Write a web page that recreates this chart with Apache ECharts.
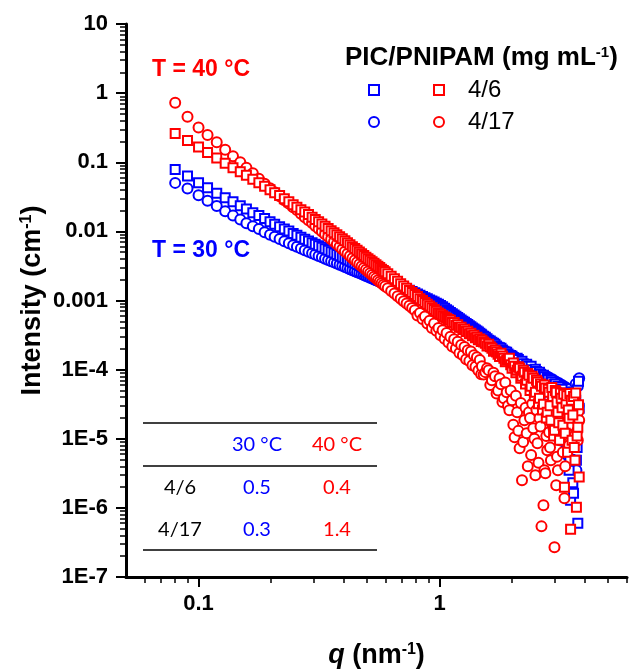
<!DOCTYPE html>
<html><head><meta charset="utf-8">
<script src="https://cdn.jsdelivr.net/npm/echarts@6/dist/echarts.min.js"></script>
<style>html,body{margin:0;padding:0;background:#fff}#c{width:629px;height:671px}</style>
</head><body><div id="c"></div>
<script>
// ---------------- data ----------------
const q = [0.080,0.090,0.100,0.109,0.119,0.129,0.139,0.149,0.158,0.168,0.178,0.188,0.198,0.207,0.217,0.227,0.237,0.247,0.256,0.266,0.276,0.286,0.296,
0.305,0.315,0.325,0.335,0.345,0.355,0.365,0.375,0.385,0.395,0.405,0.415,0.425,0.435,0.445,0.455,0.465,0.475,0.485,0.495,0.505,0.515,0.525,0.535,0.545,0.555,0.565,0.575,0.585,0.595,
0.61,0.63,0.65,0.67,0.69,0.71,0.73,0.75,0.77,0.79,0.81,0.83,0.85,0.87,0.89,0.91,0.93,0.95,0.97,0.99,1.01,1.03,1.05,1.07,1.09,1.11,1.13,1.15,1.17,1.19,1.21,1.23,1.25,1.27,1.29,1.31,1.33,1.35,1.37,1.39,1.41,1.43,1.45,1.47,1.49,
1.500,1.525,1.550,1.575,1.600,1.625,1.650,1.675,1.700,1.725,1.750,1.775,1.800,1.825,1.850,1.875,1.900,1.925,1.950,1.975,2.000,2.025,2.050,2.075,2.100,2.125,2.150,2.175,2.200,2.225,2.250,2.275,2.300,2.325,2.350,2.375,2.400,2.425,2.450,2.475,2.500,2.525,2.550,2.575,2.600,2.625,2.650,2.675,2.700,2.725,2.750,2.775,2.800,2.825,2.850,2.875,2.900,2.925,2.950,2.975,3.000,3.025,3.050,3.075,3.100,3.125,3.150,3.175,3.200,3.225,3.250,3.275,3.300,3.325,3.350,3.375,3.400,3.425,3.450,3.475,3.500,3.525,3.550,3.575,3.600,3.625,3.650,3.675,3.700,3.725,3.750,3.775,3.800];

// 4/6 at 30 °C (blue squares)
const I_4_6_30C = [0.0787,0.0633,0.0507,0.0429,0.0357,0.0307,0.0269,0.0235,0.0210,0.0186,0.0169,0.0153,0.0138,0.0127,0.0117,0.0108,0.0101,0.00932,0.00881,0.00824,0.00771,0.00726,0.00686,
0.00653,0.00621,0.00591,0.00562,0.00534,0.00508,0.00485,0.00463,0.00443,0.00423,0.00406,0.00389,0.00373,0.00358,0.00345,0.00332,0.0032,0.00308,0.00297,0.00287,0.00277,0.00268,0.00259,0.00251,0.00243,0.00235,0.00228,0.00221,0.00215,0.00209,
0.002,0.0019,0.0018,0.00171,0.00163,0.00155,0.00148,0.00141,0.00135,0.00129,0.00124,0.00119,0.00114,0.0011,0.00106,0.00102,9.83e-4,9.48e-4,9.16e-4,8.85e-4,8.49e-4,8.09e-4,7.71e-4,7.36e-4,7.04e-4,6.73e-4,6.44e-4,6.17e-4,5.91e-4,5.67e-4,5.44e-4,5.23e-4,5.03e-4,4.83e-4,4.65e-4,4.48e-4,4.31e-4,4.16e-4,4.01e-4,3.87e-4,3.74e-4,3.61e-4,3.49e-4,3.37e-4,3.26e-4,
3.15e-4,3.05e-4,2.94e-4,2.8e-4,2.66e-4,2.6e-4,2.49e-4,2.4e-4,2.33e-4,2.2e-4,2.11e-4,2.08e-4,2.04e-4,1.92e-4,1.85e-4,1.8e-4,1.79e-4,1.68e-4,1.62e-4,1.6e-4,1.56e-4,1.5e-4,1.37e-4,1.38e-4,1.46e-4,1.4e-4,1.2e-4,1.25e-4,1.32e-4,1.22e-4,1.05e-4,1.1e-4,1.2e-4,1.12e-4,9.17e-5,9.6e-5,1.12e-4,1.0e-4,8.03e-5,8.5e-5,1.01e-4,9.4e-5,7.03e-5,7.6e-5,9.17e-5,8.6e-5,5.95e-5,6.6e-5,8.3e-5,7.9e-5,5.03e-5,5.7e-5,7.51e-5,7.2e-5,4.12e-5,4.8e-5,7.03e-5,6.6e-5,3.37e-5,3.9e-5,6.15e-5,6.2e-5,2.58e-5,3.0e-5,5.75e-5,5.6e-5,1.85e-5,2.2e-5,5.03e-5,5.2e-5,1.24e-5,1.5e-5,3.61e-5,4.6e-5,8.05e-6,9.0e-6,4.26e-5,4.3e-5,3.5e-6,5.0e-6,1.29e-6,3.3e-5,2.19e-5,2.3e-6,1.63e-6,1.6e-5,9.51e-6,3.6e-5,4.89e-6,7.5e-6,5.99e-7,6.8e-5,2.76e-5];

// 4/17 at 30 °C (blue circles)
const I_4_17_30C = [0.0503,0.0418,0.0334,0.0278,0.0232,0.0196,0.0169,0.0148,0.0131,0.0119,0.0108,0.00974,0.00896,0.00838,0.00776,0.00721,0.00675,0.00631,0.00599,0.00565,0.00535,0.00507,0.00484,
0.00462,0.00441,0.00422,0.00403,0.00386,0.0037,0.00356,0.00342,0.00329,0.00317,0.00305,0.00294,0.00284,0.00274,0.00265,0.00257,0.00249,0.00241,0.00234,0.00227,0.0022,0.00214,0.00208,0.00202,0.00196,0.00191,0.00186,0.00182,0.00177,0.00173,
0.00166,0.00158,0.0015,0.00143,0.00137,0.00131,0.00125,0.0012,0.00115,0.0011,0.00106,0.00102,9.84e-4,9.49e-4,9.15e-4,8.84e-4,8.53e-4,8.25e-4,7.99e-4,7.73e-4,7.43e-4,7.09e-4,6.76e-4,6.46e-4,6.18e-4,5.91e-4,5.66e-4,5.42e-4,5.2e-4,4.99e-4,4.79e-4,4.61e-4,4.43e-4,4.26e-4,4.1e-4,3.95e-4,3.81e-4,3.68e-4,3.55e-4,3.42e-4,3.31e-4,3.2e-4,3.09e-4,2.99e-4,2.89e-4,
2.85e-4,2.75e-4,2.66e-4,2.52e-4,2.41e-4,2.35e-4,2.25e-4,2.12e-4,2.04e-4,2.0e-4,1.97e-4,1.85e-4,1.79e-4,1.76e-4,1.73e-4,1.62e-4,1.56e-4,1.55e-4,1.51e-4,1.42e-4,1.37e-4,1.4e-4,1.37e-4,1.28e-4,1.24e-4,1.27e-4,1.24e-4,1.15e-4,1.08e-4,1.14e-4,1.12e-4,1.02e-4,9.8e-5,1.06e-4,1.05e-4,9.0e-5,8.58e-5,1.0e-4,9.8e-5,8.2e-5,7.76e-5,9.5e-5,9.17e-5,7.2e-5,6.79e-5,8.8e-5,8.58e-5,6.2e-5,5.75e-5,8.3e-5,8.03e-5,5.2e-5,4.71e-5,7.8e-5,7.51e-5,4.3e-5,3.86e-5,7.3e-5,7.03e-5,3.4e-5,3.05e-5,6.8e-5,6.57e-5,2.6e-5,2.19e-5,6.4e-5,6.15e-5,1.8e-5,1.42e-5,6.0e-5,5.75e-5,1.2e-5,9.51e-6,5.6e-5,5.38e-5,7.5e-6,5.77e-6,5.2e-5,4.71e-5,2.6e-5,1.98e-5,4.5e-5,4.12e-5,8.0e-6,1.33e-5,3.8e-5,3.16e-5,6.2e-5,3.5e-6,2.2e-5,5.75e-5,3.0e-5,7.51e-5];

// 4/6 at 40 °C (red squares)
const I_4_6_40C = [0.261,0.206,0.166,0.138,0.115,0.097,0.0836,0.0731,0.065,0.0569,0.0507,0.0451,0.0401,0.0363,0.0329,0.0297,0.0269,0.0243,0.0224,0.0206,0.019,0.0175,0.016,
0.0149,0.0138,0.0128,0.0119,0.0110,0.0102,0.00956,0.00896,0.00838,0.00784,0.00733,0.00686,0.00642,0.00601,0.00567,0.00535,0.00504,0.00475,0.00449,0.00424,0.00403,0.00383,0.00365,0.00347,0.0033,0.00314,0.00299,0.00284,0.00272,0.00261,
0.00244,0.00224,0.00206,0.0019,0.00175,0.00162,0.0015,0.0014,0.0013,0.00122,0.00114,0.00106,9.98e-4,9.38e-4,8.81e-4,8.31e-4,7.83e-4,7.4e-4,7.0e-4,6.62e-4,6.3e-4,6.03e-4,5.77e-4,5.53e-4,5.31e-4,5.2e-4,4.8e-4,4.8e-4,4.4e-4,4.45e-4,4.1e-4,4.1e-4,3.8e-4,3.85e-4,3.55e-4,3.6e-4,3.3e-4,3.35e-4,3.1e-4,3.15e-4,2.9e-4,2.95e-4,2.7e-4,2.78e-4,2.55e-4,
2.67e-4,2.5e-4,2.41e-4,2.2e-4,2.33e-4,2.15e-4,2.04e-4,1.85e-4,1.91e-4,1.8e-4,1.67e-4,1.55e-4,1.73e-4,1.58e-4,1.46e-4,1.3e-4,1.37e-4,1.4e-4,1.46e-4,1.18e-4,1.05e-4,1.25e-4,1.12e-4,9.0e-5,9.8e-5,1.1e-4,1.05e-4,7.5e-5,8.0e-5,9.8e-5,9.2e-5,6.2e-5,7.0e-5,8.8e-5,8.3e-5,5.0e-5,5.75e-5,8.0e-5,7.5e-5,4.2e-5,4.7e-5,7.0e-5,6.6e-5,3.2e-5,3.85e-5,6.2e-5,5.75e-5,2.6e-5,3.15e-5,6.0e-5,5.4e-5,2.0e-5,2.42e-5,5.2e-5,4.7e-5,3.0e-5,1.85e-5,5.5e-5,4.1e-5,1.1e-5,1.33e-5,5.0e-5,4.7e-5,3.4e-5,2.42e-5,1.7e-5,9.5e-6,4.6e-5,3.85e-5,2.8e-5,1.57e-5,4.4e-5,1.99e-6,1.2e-5,3.27e-5,4.2e-5,6.4e-6,2.6e-5,1.98e-5,4.5e-5,4.9e-7,3.6e-5,9.5e-6,2.2e-5,4.1e-5,7.5e-6,4.9e-6,4.6e-5,1.02e-6,1.1e-5,1.47e-5,3.1e-5,2.8e-6];

// 4/17 at 40 °C (red circles)
const I_4_17_40C = [0.724,0.454,0.319,0.247,0.195,0.152,0.122,0.100,0.0836,0.0695,0.0579,0.049,0.0422,0.0369,0.0323,0.0283,0.0252,0.0224,0.0203,0.018,0.016,0.0145,0.0132,
0.012,0.0109,0.00996,0.0091,0.00838,0.00771,0.0071,0.00653,0.006,0.00552,0.00512,0.00475,0.00441,0.00409,0.00383,0.00358,0.00335,0.00313,0.00296,0.00279,0.00263,0.00248,0.00234,0.00221,0.00209,0.00197,0.00187,0.00178,0.00169,0.00161,
0.00151,0.00137,0.00126,0.00115,0.00106,9.79e-4,9.05e-4,8.39e-4,7.78e-4,7.24e-4,6.08e-4,6.6e-4,5.4e-4,5.85e-4,4.65e-4,5.1e-4,4.0e-4,4.65e-4,3.65e-4,4.0e-4,3.14e-4,3.7e-4,2.79e-4,3.38e-4,2.47e-4,2.99e-4,2.16e-4,2.75e-4,2.02e-4,2.54e-4,1.74e-4,2.28e-4,1.62e-4,2.12e-4,1.41e-4,1.9e-4,1.33e-4,1.83e-4,1.16e-4,1.61e-4,1.1e-4,1.51e-4,9.75e-5,1.38e-4,8.6e-5,
1.12e-4,8.5e-5,9.2e-5,1.05e-4,9.8e-5,6.0e-5,7.0e-5,9.0e-5,8.0e-5,4.5e-5,5.0e-5,7.5e-5,6.15e-5,3.4e-5,3.85e-5,6.5e-5,4.7e-5,3.0e-5,2.58e-5,5.0e-5,3.6e-5,1.6e-5,1.05e-5,4.2e-5,2.42e-5,1.3e-5,7.3e-6,3.3e-5,2.5e-6,9.0e-6,1.85e-5,2.8e-5,1.2e-5,4.0e-6,2.42e-5,2.0e-5,5.8e-6,3.2e-5,1.42e-5,1.0e-5,2.96e-6,2.6e-5,8.6e-6,4.5e-6,1.98e-5,1.5e-5,5.4e-7,2.9e-5,1.09e-6,3.5e-6,3.17e-6,1.1e-5,6.8e-6,2.2e-5,1.24e-5,7.5e-6,4.9e-6,3.0e-5,1.57e-5,1.4e-5,2.7e-7,2.4e-5,2.12e-6,5.5e-6,3.5e-6,1.7e-5,9.5e-6,3.0e-5,1.85e-5,1.1e-5,6.4e-6,2.6e-5,1.38e-6,4.0e-6,1.33e-5,3.2e-5,2.19e-5,1.6e-5,8.05e-6,3.8e-5,2.58e-5,1.2e-5,1.57e-5,2.8e-5,3.6e-5,2.0e-5,1.12e-5,3.4e-5,2.19e-5,1.3e-5,9.5e-6,2.5e-5,1.85e-5];

// ticks
const xMajorTicks = [0.1, 1];
const xTickLabels = ['0.1', '1'];
const xMinorTicks = [0.06,0.07,0.08,0.09,0.2,0.3,0.4,0.5,0.6,0.7,0.8,0.9,2,3,4,5,6];
const yMajorTicks = [10, 1, 0.1, 0.01, 0.001, 1e-4, 1e-5, 1e-6, 1e-7];
const yTickLabels = ['10', '1', '0.1', '0.01', '0.001', '1E-4', '1E-5', '1E-6', '1E-7'];
const yMinorTicks = [2e-7,3e-7,4e-7,5e-7,6e-7,7e-7,8e-7,9e-7,
2e-6,3e-6,4e-6,5e-6,6e-6,7e-6,8e-6,9e-6,
2e-5,3e-5,4e-5,5e-5,6e-5,7e-5,8e-5,9e-5,
2e-4,3e-4,4e-4,5e-4,6e-4,7e-4,8e-4,9e-4,
0.002,0.003,0.004,0.005,0.006,0.007,0.008,0.009,
0.02,0.03,0.04,0.05,0.06,0.07,0.08,0.09,
0.2,0.3,0.4,0.5,0.6,0.7,0.8,0.9,
2,3,4,5,6,7,8,9];

// inset table
const tableTemps = ['30 °C', '40 °C'];
const tableRowNames = ['4/6', '4/17'];
const table30C = ['0.5', '0.3'];
const table40C = ['0.4', '1.4'];

// ---------------- chart ----------------
const BLUE = '#0000ff', RED = '#ff0000';
const FONT = '"Liberation Sans", Arial, sans-serif';
const S46_30 = '4/6 (30 °C)', S417_30 = '4/17 (30 °C)', S46_40 = '4/6 (40 °C)', S417_40 = '4/17 (40 °C)';

function pairs(arr) { return q.map((v, i) => [v, arr[i]]).filter(p => p[1] != null); }
function sc(name, arr, symbol, color, size) {
  return {
    name, type: 'scatter', data: pairs(arr), symbol, symbolSize: size,
    itemStyle: { color: '#ffffff', borderColor: color, borderWidth: 2, opacity: 1 },
    emphasis: { disabled: true }, animation: false
  };
}

const nameRich = {
  n: { fontFamily: FONT, fontWeight: 'bold', fontSize: 27, color: '#000' },
  qi: { fontFamily: FONT, fontWeight: 'bold', fontStyle: 'italic', fontSize: 27, color: '#000' },
  s: { fontFamily: FONT, fontWeight: 'bold', fontSize: 16, color: '#000', verticalAlign: 'top' }
};

const tickLabelStyle = { color: '#000', fontFamily: FONT, fontWeight: 'bold', fontSize: 22 };

const chart = echarts.init(document.getElementById('c'), null, { renderer: 'canvas' });

const graphics = [
  { type: 'text', x: 152, y: 70, style: { text: 'T = 40 °C', fill: RED, font: 'bold 23px ' + FONT, verticalAlign: 'middle' } },
  { type: 'text', x: 152, y: 251, style: { text: 'T = 30 °C', fill: BLUE, font: 'bold 23px ' + FONT, verticalAlign: 'middle' } },
  { type: 'text', x: 345, y: 58, style: {
      text: '{b|PIC/PNIPAM (mg mL}{s|-1}{b|)}', verticalAlign: 'middle',
      rich: {
        b: { fontFamily: FONT, fontWeight: 'bold', fontSize: 26, fill: '#000' },
        s: { fontFamily: FONT, fontWeight: 'bold', fontSize: 15, fill: '#000', verticalAlign: 'top' }
      } } },
  { type: 'line', shape: { x1: 143, y1: 423, x2: 377, y2: 423 }, style: { stroke: '#000', lineWidth: 1.5 } },
  { type: 'line', shape: { x1: 143, y1: 466, x2: 377, y2: 466 }, style: { stroke: '#000', lineWidth: 1.5 } },
  { type: 'line', shape: { x1: 143, y1: 550, x2: 377, y2: 550 }, style: { stroke: '#000', lineWidth: 1.5 } }
];
const tFont = '20px Lato, "Open Sans", sans-serif';
const colX = [180, 257, 337];
const rowY = [445, 488, 530];
graphics.push({ type: 'text', x: colX[1], y: rowY[0], style: { text: tableTemps[0], fill: BLUE, font: tFont, align: 'center', verticalAlign: 'middle' } });
graphics.push({ type: 'text', x: colX[2], y: rowY[0], style: { text: tableTemps[1], fill: RED, font: tFont, align: 'center', verticalAlign: 'middle' } });
tableRowNames.forEach((r, i) => {
  graphics.push({ type: 'text', x: colX[0], y: rowY[i + 1], style: { text: r, fill: '#000', font: tFont, align: 'center', verticalAlign: 'middle' } });
  graphics.push({ type: 'text', x: colX[1], y: rowY[i + 1], style: { text: table30C[i], fill: BLUE, font: tFont, align: 'center', verticalAlign: 'middle' } });
  graphics.push({ type: 'text', x: colX[2], y: rowY[i + 1], style: { text: table40C[i], fill: RED, font: tFont, align: 'center', verticalAlign: 'middle' } });
});

const legendCommon = {
  orient: 'vertical', top: 78, itemWidth: 10, itemHeight: 10, itemGap: 8, padding: 0,
  selectedMode: false, itemStyle: { borderWidth: 2 }
};

chart.setOption({
  animation: false,
  backgroundColor: '#ffffff',
  textStyle: { fontFamily: FONT },
  grid: { left: 126, right: 2, top: 24, bottom: 94, containLabel: false, outerBoundsMode: 'none' },
  xAxis: [
    {
      type: 'log', logBase: 10, min: 0.05, max: 6, position: 'bottom',
      axisLine: { show: true, onZero: false, lineStyle: { color: '#000', width: 3 } },
      axisTick: { show: true, inside: false, length: 10, lineStyle: { color: '#000', width: 2 }, customValues: xMajorTicks },
      axisLabel: { show: true, customValues: xMajorTicks, margin: 16, ...tickLabelStyle,
        formatter: v => { const i = xMajorTicks.findIndex(t => Math.abs(Math.log10(t) - Math.log10(v)) < 1e-6); return i >= 0 ? xTickLabels[i] : ''; } },
      splitLine: { show: false }, minorTick: { show: false },
      name: '{qi|q}{n| (nm}{s|-1}{n|)}', nameLocation: 'middle', nameGap: 65, nameMoveOverlap: false,
      nameTextStyle: { rich: nameRich }
    },
    {
      type: 'log', logBase: 10, min: 0.05, max: 6, position: 'bottom',
      axisLine: { show: false, onZero: false },
      axisTick: { show: true, inside: false, length: 6, lineStyle: { color: '#000', width: 1.5 }, customValues: xMinorTicks },
      axisLabel: { show: false }, splitLine: { show: false }
    }
  ],
  yAxis: [
    {
      type: 'log', logBase: 10, min: 1e-7, max: 10, position: 'left',
      axisLine: { show: true, onZero: false, lineStyle: { color: '#000', width: 3 } },
      axisTick: { show: true, inside: false, length: 10, lineStyle: { color: '#000', width: 2 }, customValues: yMajorTicks },
      axisLabel: { show: true, customValues: yMajorTicks, margin: 18, ...tickLabelStyle,
        formatter: v => { const i = yMajorTicks.findIndex(t => Math.abs(Math.log10(t) - Math.log10(v)) < 1e-6); return i >= 0 ? yTickLabels[i] : ''; } },
      splitLine: { show: false },
      name: '{n|Intensity (cm}{s|-1}{n|)}', nameLocation: 'middle', nameGap: 80, nameMoveOverlap: false,
      nameTextStyle: { rich: nameRich }
    },
    {
      type: 'log', logBase: 10, min: 1e-7, max: 10, position: 'left',
      axisLine: { show: false, onZero: false },
      axisTick: { show: true, inside: false, length: 6, lineStyle: { color: '#000', width: 1.5 }, customValues: yMinorTicks },
      axisLabel: { show: false }, splitLine: { show: false }
    }
  ],
  legend: [
    Object.assign({}, legendCommon, {
      left: 368,
      data: [{ name: S46_30, icon: 'rect' }, { name: S417_30, icon: 'circle' }],
      formatter: () => ' ',
      textStyle: { fontSize: 24, lineHeight: 24, fontFamily: FONT, color: '#000' }
    }),
    Object.assign({}, legendCommon, {
      left: 433,
      data: [{ name: S46_40, icon: 'rect' }, { name: S417_40, icon: 'circle' }],
      formatter: n => n.split(' ')[0],
      textStyle: { fontSize: 24, lineHeight: 24, fontFamily: FONT, color: '#000', padding: [0, 0, 0, 19] }
    })
  ],
  series: [
    sc(S417_30, I_4_17_30C, 'circle', BLUE, 10),
    sc(S46_30, I_4_6_30C, 'rect', BLUE, 9),
    sc(S417_40, I_4_17_40C, 'circle', RED, 10),
    sc(S46_40, I_4_6_40C, 'rect', RED, 9)
  ],
  graphic: graphics
});
</script>
</body></html>
